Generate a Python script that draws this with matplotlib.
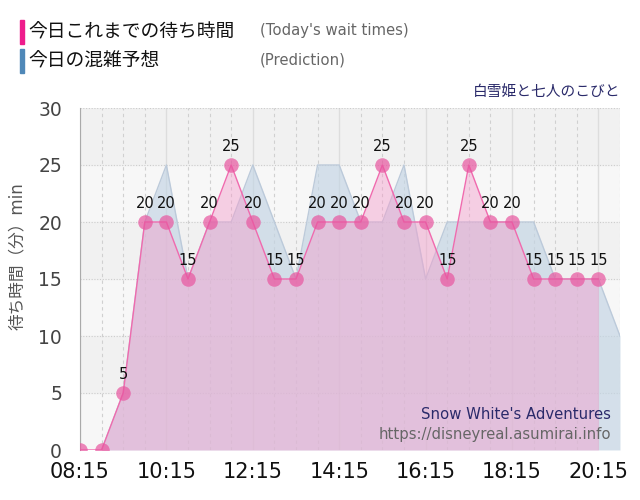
import matplotlib.pyplot as plt
import numpy as np

plt.rcParams['font.family'] = ['DejaVu Sans', 'Noto Sans CJK JP']

times = ["08:15", "08:45", "09:15", "09:45", "10:15", "10:45", "11:15", "11:45",
         "12:15", "12:45", "13:15", "13:45", "14:15", "14:45", "15:15", "15:45",
         "16:15", "16:45", "17:15", "17:45", "18:15", "18:45", "19:15", "19:45",
         "20:15"]
actual = [0, 0, 5, 20, 20, 15, 20, 25, 20, 15, 15, 20, 20, 20, 25, 20,
          20, 15, 25, 20, 20, 15, 15, 15, 15]

pred_times = ["08:45", "09:15", "09:45", "10:15", "10:45", "11:15", "11:45",
              "12:15", "12:45", "13:15", "13:45", "14:15", "14:45", "15:15",
              "15:45", "16:15", "16:45", "17:15", "17:45", "18:15", "18:45",
              "19:15", "19:45", "20:15", "20:45"]
prediction = [0, 5, 20, 25, 15, 20, 20, 25, 20, 15, 25, 25, 20, 20,
              25, 15, 20, 20, 20, 20, 20, 15, 15, 15, 10]

tick_labels = ["08:15", "10:15", "12:15", "14:15", "16:15", "18:15", "20:15"]


def to_hours(t):
    h, m = t.split(":")
    return int(h) + int(m) / 60


x = np.array([to_hours(t) for t in times])
xp = np.array([to_hours(t) for t in pred_times])
y = np.array(actual)
yp = np.array(prediction)

fig = plt.figure(figsize=(6.4, 5), dpi=100)
ax = fig.add_axes([0.125, 0.1, 0.84375, 0.684])

ax.set_facecolor("#f7f7f7")
for lo in range(0, 30, 10):
    ax.axhspan(lo + 5, lo + 10, color="#f1f1f1", zorder=0)

# grid
for xv in np.arange(8.25, 20.8, 0.5):
    major = abs((xv - 8.25) % 2) < 1e-6
    ax.axvline(xv, color="#dddddd" if major else "#d0d0d0",
               lw=1 if major else 0.8, ls="-" if major else (0, (3, 3)), zorder=1)
for yv in range(5, 31, 5):
    ax.axhline(yv, color="#cccccc", lw=0.8, ls=(0, (1, 1.5)), zorder=1)

# prediction
ax.fill_between(xp, yp, 0, color="#c4d5e4", alpha=0.68, lw=0, zorder=2)
ax.plot(xp, yp, color="#bccada", lw=1, zorder=2)

# actual
ax.fill_between(x, y, 0, color="#f49ccb", alpha=0.45, lw=0, zorder=3)
ax.plot(x, y, color="#f06aae", lw=1, zorder=4)
ax.scatter(x, y, s=110, color="#e8559f", alpha=0.7, lw=0, zorder=5)

for xi, yi in zip(x[2:], y[2:]):
    ax.annotate(str(yi), (xi, yi), xytext=(0, 8), textcoords="offset points",
                ha="center", va="bottom", fontsize=10.5, color="#111111", zorder=6)

ax.set_xlim(8.25, 20.75)
ax.set_ylim(0, 30)
ax.set_xticks([to_hours(t) for t in tick_labels])
ax.set_xticklabels(tick_labels, fontsize=15, color="#111111")
ax.set_yticks(range(0, 31, 5))
ax.set_yticklabels([str(v) for v in range(0, 31, 5)], fontsize=13.5, color="#444444")
ax.tick_params(axis="x", length=0, pad=9)
ax.tick_params(axis="y", length=0, pad=13)
for s in ["top", "right", "bottom"]:
    ax.spines[s].set_visible(False)
ax.spines["left"].set_color("#aaaaaa")
ax.set_ylabel("待ち時間（分）min", fontsize=12, color="#555555")
ax.yaxis.set_label_coords(-0.10, 0.567)

ax.text(0.983, 0.105, "Snow White's Adventures", transform=ax.transAxes,
        ha="right", va="center", fontsize=10.7, color="#2a2a6a", zorder=7)
ax.text(0.983, 0.045, "https://disneyreal.asumirai.info", transform=ax.transAxes,
        ha="right", va="center", fontsize=10.7, color="#666666", zorder=7)

# legend
fig.patches.append(plt.Rectangle((20 / 640, 1 - 44 / 500), 4 / 640, 24 / 500,
                                 transform=fig.transFigure, color="#ee1c8c"))
fig.patches.append(plt.Rectangle((20 / 640, 1 - 73 / 500), 4 / 640, 24 / 500,
                                 transform=fig.transFigure, color="#4f88b8"))
fig.text(28 / 640, 1 - 32 / 500, "今日これまでの待ち時間", fontsize=13.5,
         va="center", color="#111111")
fig.text(28 / 640, 1 - 61 / 500, "今日の混雑予想", fontsize=13.5,
         va="center", color="#111111")
fig.text(260 / 640, 1 - 31 / 500, "(Today's wait times)", fontsize=10.7,
         va="center", color="#666666")
fig.text(260 / 640, 1 - 60 / 500, "(Prediction)", fontsize=10.7,
         va="center", color="#666666")
fig.text(620 / 640, 1 - 91 / 500, "白雪姫と七人のこびと", fontsize=10.6,
         ha="right", va="center", color="#2a2a6a")

fig.savefig("out.png", dpi=100)
